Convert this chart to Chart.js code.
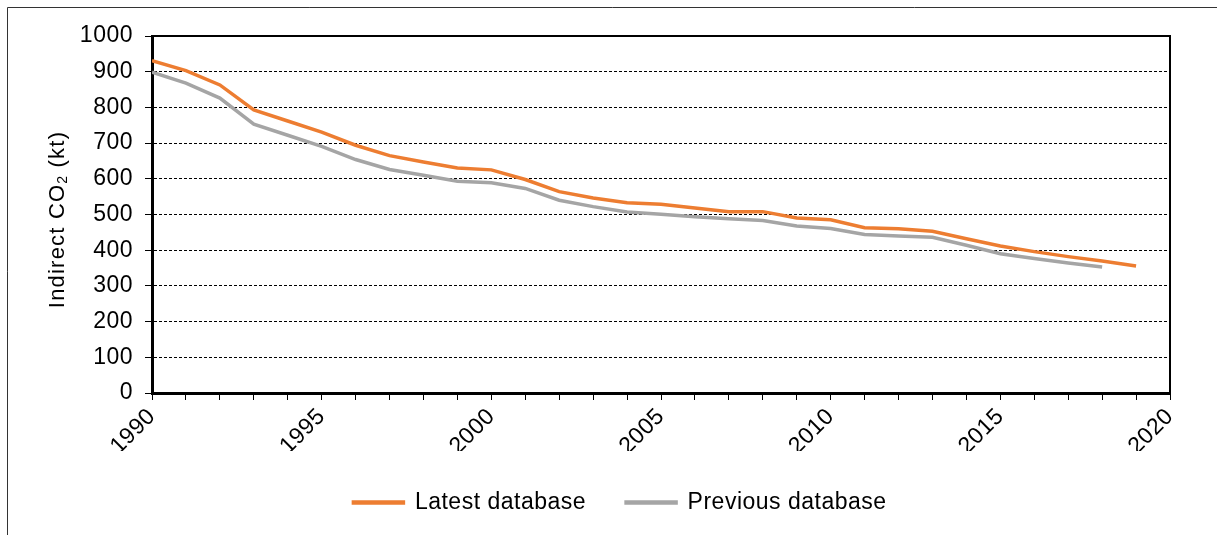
<!DOCTYPE html>
<html>
<head>
<meta charset="utf-8">
<script src="https://cdn.jsdelivr.net/npm/chart.js@4/dist/chart.umd.min.js"></script>
<style>
    html, body { margin: 0; padding: 0; background: #fff; }
    #wrap { width: 1217px; height: 535px; }
</style>
</head>
<body>
<div id="wrap"><canvas id="co2Chart" width="1217" height="535"></canvas></div>
<script>
// Data
const years = [1990, 1991, 1992, 1993, 1994, 1995, 1996, 1997, 1998, 1999,
               2000, 2001, 2002, 2003, 2004, 2005, 2006, 2007, 2008, 2009,
               2010, 2011, 2012, 2013, 2014, 2015, 2016, 2017, 2018, 2019];
const latest = [931, 903, 863, 793, 762, 731, 694, 665, 647, 630,
                625, 598, 564, 546, 533, 529, 518, 508, 508, 490,
                485, 463, 460, 453, 432, 412, 396, 382, 370, 356];
const previous = [899, 868, 826, 753, 722, 691, 654, 626, 610, 593,
                  589, 573, 540, 522, 507, 501, 494, 488, 483, 468,
                  461, 444, 440, 436, 414, 390, 377, 364, 353];
const xLabelYears = [1990, 1995, 2000, 2005, 2010, 2015, 2020];
const yTicks = [0, 100, 200, 300, 400, 500, 600, 700, 800, 900, 1000];

const FONT = "'Liberation Sans', Arial, sans-serif";
const FONT_SIZE = 23;
const SPACING = '0.5px'; // the original text is a touch wider than plain Arial
const LEGEND_SHIFT = 35;

// frame, plot border and the y title with a real subscript
const decorations = {
    id: 'decorations',
    beforeUpdate(chart) { chart.ctx.letterSpacing = SPACING; },
    beforeLayout(chart) { chart.ctx.letterSpacing = SPACING; },
    afterLayout(chart) {
        // legend sits a little right of centre in the original
        chart.legend.left += LEGEND_SHIFT;
        chart.legend.right += LEGEND_SHIFT;
    },
    beforeDraw(chart) {
        const ctx = chart.ctx;
        ctx.letterSpacing = SPACING;
        ctx.save();
        ctx.strokeStyle = '#333';
        ctx.lineWidth = 1;
        ctx.beginPath();
        ctx.moveTo(7.5, chart.height);
        ctx.lineTo(7.5, 7.5);
        ctx.lineTo(chart.width, 7.5);
        ctx.stroke();
        ctx.restore();
    },
    afterDraw(chart) {
        const ctx = chart.ctx;
        const a = chart.chartArea;
        ctx.save();
        ctx.strokeStyle = '#000';
        ctx.lineWidth = 2;
        ctx.beginPath();
        ctx.moveTo(a.left, a.top);
        ctx.lineTo(a.right, a.top);
        ctx.lineTo(a.right, a.bottom);
        ctx.stroke();

        // axis title
        ctx.letterSpacing = '1.2px';
        const parts = [
            { t: 'Indirect CO', size: 22, dy: 0 },
            { t: '2', size: 14, dy: 5 },
            { t: ' (kt)', size: 22, dy: 0 }
        ];
        let total = 0;
        parts.forEach(p => {
            ctx.font = p.size + 'px ' + FONT;
            p.w = ctx.measureText(p.t).width;
            total += p.w;
        });
        ctx.translate(58, (a.top + a.bottom) / 2 + 5);
        ctx.rotate(-Math.PI / 2);
        ctx.fillStyle = '#000';
        ctx.textBaseline = 'middle';
        ctx.textAlign = 'left';
        let x = -total / 2;
        parts.forEach(p => {
            ctx.font = p.size + 'px ' + FONT;
            ctx.fillText(p.t, x, p.dy);
            x += p.w;
        });
        ctx.restore();
    }
};

const ctx = document.getElementById('co2Chart').getContext('2d');
new Chart(ctx, {
    type: 'line',
    data: {
        datasets: [
            {
                label: 'Latest database',
                data: latest.map((v, i) => ({ x: years[i], y: v })),
                borderColor: '#ED7D31',
                backgroundColor: '#ED7D31',
                borderWidth: 3.5,
                pointRadius: 0,
                tension: 0
            },
            {
                label: 'Previous database',
                data: previous.map((v, i) => ({ x: years[i], y: v })),
                borderColor: '#A5A5A5',
                backgroundColor: '#A5A5A5',
                borderWidth: 3.5,
                pointRadius: 0,
                tension: 0
            }
        ]
    },
    options: {
        responsive: false,
        animation: false,
        layout: { padding: { top: 36, right: 47, left: 0, bottom: 11 } },
        plugins: {
            legend: {
                position: 'bottom',
                labels: {
                    boxWidth: 50,
                    boxHeight: 1,
                    padding: 40,
                    color: '#000',
                    font: { family: FONT, size: FONT_SIZE }
                }
            },
            tooltip: { enabled: false }
        },
        scales: {
            x: {
                type: 'linear',
                min: xLabelYears[0],
                max: xLabelYears[xLabelYears.length - 1],
                afterFit(scale) { scale.height = 58; },
                ticks: {
                    stepSize: 1,
                    autoSkip: false,
                    minRotation: 45,
                    maxRotation: 45,
                    padding: 3,
                    color: '#000',
                    font: { family: FONT, size: FONT_SIZE },
                    callback: v => xLabelYears.includes(v) ? String(v) : ''
                },
                grid: {
                    drawOnChartArea: false,
                    color: '#000',
                    tickLength: 7,
                    lineWidth: 1
                },
                border: { color: '#000', width: 3 }
            },
            y: {
                min: yTicks[0],
                max: yTicks[yTicks.length - 1],
                afterFit(scale) { scale.width = 152; },
                afterBuildTicks(scale) { scale.ticks = yTicks.map(v => ({ value: v })); },
                ticks: {
                    color: '#000',
                    padding: 12,
                    font: { family: FONT, size: FONT_SIZE },
                    callback: v => String(v)
                },
                grid: {
                    color: c => (c.tick && (c.tick.value === 0 || c.tick.value === 1000)) ? 'rgba(0,0,0,0)' : '#000',
                    tickColor: '#000',
                    tickLength: 7,
                    tickBorderDash: [],
                    lineWidth: 1
                },
                border: { color: '#000', width: 3, dash: [3, 2] }
            }
        }
    },
    plugins: [decorations]
});
</script>
</body>
</html>
